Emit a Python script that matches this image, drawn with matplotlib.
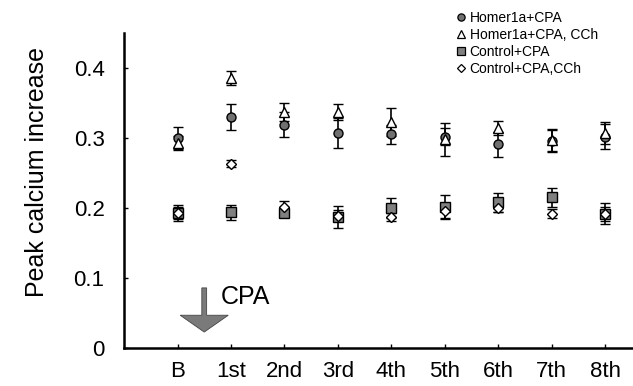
import numpy as np
import matplotlib
matplotlib.use('Agg')
import matplotlib.pyplot as plt
from matplotlib.lines import Line2D

plt.rcParams['font.family'] = ['Liberation Sans', 'DejaVu Sans']

# data
sessions = ['B', '1st', '2nd', '3rd', '4th', '5th', '6th', '7th', '8th']
homer_cpa = [0.300, 0.330, 0.319, 0.307, 0.305, 0.302, 0.291, 0.296, 0.302]
homer_cpa_err = [0.016, 0.018, 0.018, 0.022, 0.013, 0.012, 0.018, 0.016, 0.018]
homer_cch = [0.293, 0.386, 0.337, 0.337, 0.323, 0.298, 0.314, 0.297, 0.307]
homer_cch_err = [0.010, 0.010, 0.013, 0.012, 0.020, 0.024, 0.010, 0.016, 0.016]
ctrl_cpa = [0.193, 0.194, 0.193, 0.187, 0.200, 0.202, 0.208, 0.215, 0.192]
ctrl_cpa_err = [0.011, 0.011, 0.006, 0.016, 0.014, 0.017, 0.013, 0.014, 0.015]
ctrl_cch = [0.193, 0.263, 0.201, 0.189, 0.187, 0.196, 0.200, 0.192, 0.192]
ctrl_cch_err = [0.008, 0.005, 0.009, 0.008, 0.006, 0.010, 0.006, 0.006, 0.010]

x = np.arange(len(sessions))

fig = plt.figure(figsize=(6.33, 3.86), dpi=100)
ax = fig.add_axes([0.196, 0.098, 0.802, 0.817])

series = [
    (homer_cpa, homer_cpa_err, 'o', '#707070', 'Homer1a+CPA'),
    (homer_cch, homer_cch_err, '^', 'white', 'Homer1a+CPA, CCh'),
    (ctrl_cpa, ctrl_cpa_err, 's', '#808080', 'Control+CPA'),
    (ctrl_cch, ctrl_cch_err, 'D', 'white', 'Control+CPA,CCh'),
]
handles = []
for y, e, m, fc, lb in series:
    ms = 5 if m == 'D' else 6.5
    ax.errorbar(x, y, yerr=e, fmt=m, ms=ms, mfc=fc, mec='black', mew=1.0,
                ecolor='black', elinewidth=1.2, capsize=3.5, capthick=1.2,
                zorder=3)
    handles.append(Line2D([], [], ls='none', marker=m, ms=ms * 0.8, mfc=fc,
                          mec='black', mew=0.9, label=lb))

ax.set_xlim(-1, 8.5)
ax.set_ylim(0, 0.45)
ax.set_xticks(x)
ax.set_xticklabels(sessions)
ax.set_yticks([0, 0.1, 0.2, 0.3, 0.4])
ax.set_yticklabels(['0', '0.1', '0.2', '0.3', '0.4'])
ax.tick_params(direction='in', length=3, width=1, labelsize=16)
ax.tick_params(axis='y', pad=14)
ax.tick_params(axis='x', pad=9)
for s in ['top', 'right']:
    ax.spines[s].set_visible(False)
for s in ['left', 'bottom']:
    ax.spines[s].set_linewidth(1.8)
ax.set_ylabel('Peak calcium increase', fontsize=18)
ax.yaxis.set_label_coords(-0.148, 0.56)

# CPA arrow
ax.arrow(0.5, 0.086, 0, -0.039, width=0.09, head_width=0.9, head_length=0.024,
         length_includes_head=False, fc='#7a7a7a', ec='#444444', lw=0.6, zorder=2)
ax.text(0.8, 0.073, 'CPA', fontsize=18, ha='left', va='center')

fig.legend(handles=handles, loc='upper left',
           bbox_to_anchor=(0.71, 0.992), frameon=False, fontsize=10,
           handlelength=0.6, handletextpad=0.3, labelspacing=0.22,
           borderaxespad=0.15)

fig.savefig('out.png', dpi=100)
